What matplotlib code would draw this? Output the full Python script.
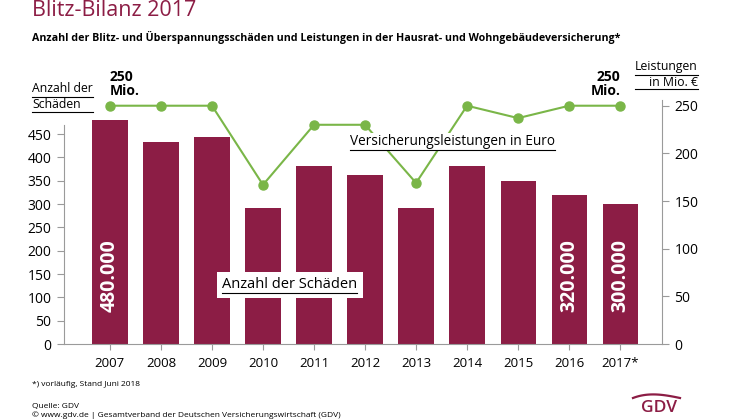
import numpy as np
import matplotlib.pyplot as plt
from matplotlib.lines import Line2D

plt.rcParams["font.family"] = ["Open Sans", "DejaVu Sans"]

years = ["2007", "2008", "2009", "2010", "2011", "2012", "2013", "2014", "2015", "2016", "2017*"]
schaeden = [480, 433, 443, 291, 381, 362, 291, 381, 349, 320, 300]   # in Tsd.
leistungen = [250, 250, 250, 167, 230, 230, 169, 250, 237, 250, 250]  # Mio. Euro
bar_labels = {0: "480.000", 9: "320.000", 10: "300.000"}

MAROON = "#8c1d45"
GREEN = "#7ab648"
GREY = "#9a9a9a"

fig = plt.figure(figsize=(7.46, 4.19), dpi=100, facecolor="white")
ax = fig.add_axes([64 / 746, 75 / 419, 598 / 746, 244 / 419])
x = list(range(len(years)))

ax.bar(x, schaeden, width=0.69, color=MAROON, zorder=2)
ax.set_xlim(-0.9, 10.82)
ax.set_ylim(0, 523)
ax.set_yticks(range(0, 451, 50))
ax.set_xticks(x)
ax.set_xticklabels(years, fontsize=9.5)
ax.tick_params(axis="x", direction="out", length=4, color=GREY, pad=5)
ax.tick_params(axis="y", direction="out", length=5, color=GREY, labelsize=10, pad=4)
for s in ["top", "right"]:
    ax.spines[s].set_visible(False)
ax.spines["left"].set_color(GREY)
ax.spines["left"].set_bounds(0, 470)
ax.spines["bottom"].set_color(GREY)

for i, lab in bar_labels.items():
    ax.text(i, 68, lab, rotation=90, color="white", fontsize=14, fontweight="bold",
            ha="center", va="bottom", zorder=3)

ax2 = ax.twinx()
ax2.set_ylim(0, 256)
ax2.set_yticks(range(0, 251, 50))
ax2.plot(x, leistungen, color=GREEN, lw=1.5, marker="o", ms=6.5, zorder=4)
for s in ["top", "left", "bottom"]:
    ax2.spines[s].set_visible(False)
ax2.spines["right"].set_color(GREY)
ax2.spines["right"].set_bounds(0, 256)
ax2.tick_params(axis="y", direction="out", length=5, color=GREY, labelsize=10, pad=4)

# annotations
ax2.text(0.0, 258, "250\nMio.", fontsize=10, fontweight="bold", ha="left", va="bottom",
         linespacing=1.0)
ax2.text(10.0, 258, "250\nMio.", fontsize=10, fontweight="bold", ha="right", va="bottom",
         linespacing=1.0)

t1 = fig.text(32 / 746, 1 - 82 / 419, "Anzahl der\nSchäden", fontsize=8.8, ha="left", va="top",
              linespacing=1.25)
t2 = fig.text(698 / 746, 1 - 60 / 419, "Leistungen\nin Mio. €", fontsize=8.8, ha="right", va="top",
              linespacing=1.25, multialignment="right")
t3 = ax2.text(2.2, 62, "Anzahl der Schäden", fontsize=10.5, ha="left", va="center", zorder=6,
              bbox=dict(facecolor="white", edgecolor="none", pad=4))
t4 = ax2.text(4.7, 212, "Versicherungsleistungen in Euro", fontsize=9.8, ha="left", va="center",
              zorder=6, bbox=dict(facecolor="white", edgecolor="none", pad=1))

fig.text(32 / 746, 1 - 11 / 419, "Blitz-Bilanz 2017", fontsize=15.5, color=MAROON, ha="left", va="center")
fig.text(32 / 746, 1 - 37 / 419,
         "Anzahl der Blitz- und Überspannungsschäden und Leistungen in der Hausrat- und Wohngebäudeversicherung*",
         fontsize=7.7, fontweight="bold", ha="left", va="center")
fig.text(32 / 746, 1 - 384 / 419, "*) vorläufig, Stand Juni 2018", fontsize=6, ha="left", va="center")
fig.text(32 / 746, 1 - 406 / 419, "Quelle: GDV", fontsize=6, ha="left", va="center")
fig.text(32 / 746, 1 - 415 / 419, "© www.gdv.de | Gesamtverband der Deutschen Versicherungswirtschaft (GDV)",
         fontsize=6, ha="left", va="center")

# GDV logo
fig.text(659 / 746, 1 - 408 / 419, "GDV", fontsize=12.5, fontweight="semibold", color=MAROON,
         ha="center", va="center")
u = np.linspace(0, 1, 40)
ax_px = 633 + 47 * u
ay_px = 398 - 14 * u * (1 - u) * (1.3 - 0.6 * u)
fig.add_artist(Line2D(ax_px / 746, 1 - ay_px / 419, color=MAROON, lw=1.6))

# underline the label texts
fig.canvas.draw()
r = fig.canvas.get_renderer()
W, H = fig.bbox.width, fig.bbox.height


def underline(t, nlines):
    bb = t.get_window_extent(r)
    lh = bb.height / nlines
    for k in range(nlines):
        y = bb.y0 + k * lh - 1
        fig.add_artist(Line2D([bb.x0 / W, bb.x1 / W], [y / H, y / H], color="black", lw=0.8,
                              zorder=10))


underline(t1, 2)
underline(t2, 2)
underline(t3, 1)
underline(t4, 1)

fig.savefig("out.png", dpi=100, facecolor="white")
